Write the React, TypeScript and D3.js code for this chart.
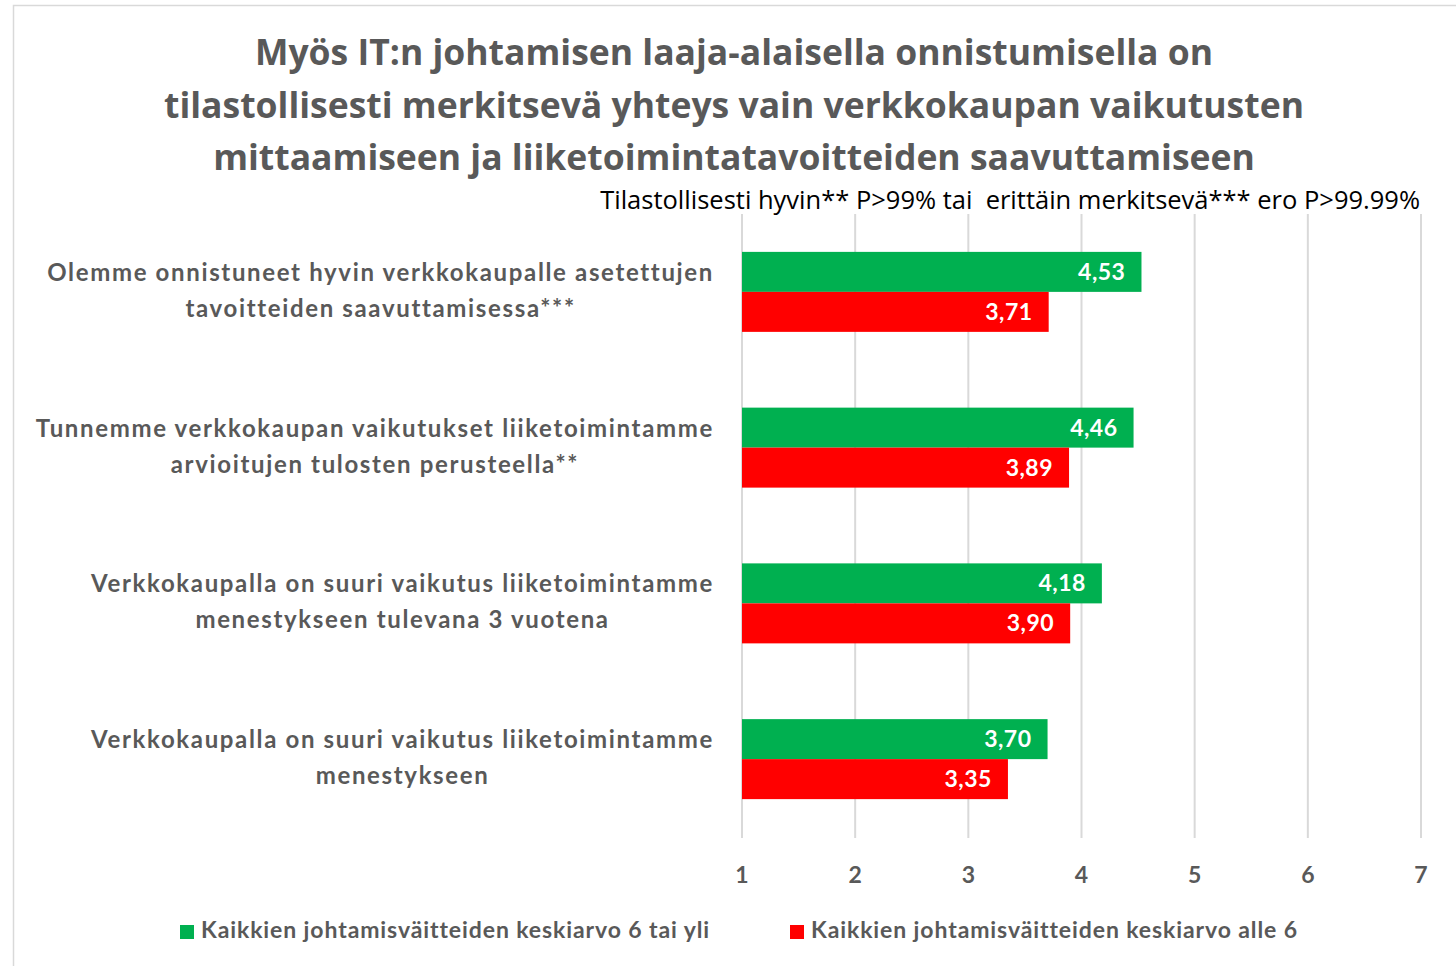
import React, { useEffect, useRef } from 'react';
import * as d3 from 'd3';

const categories = [
  ['Olemme onnistuneet hyvin verkkokaupalle asetettujen', 'tavoitteiden saavuttamisessa***'],
  ['Tunnemme verkkokaupan vaikutukset liiketoimintamme', 'arvioitujen tulosten perusteella**'],
  ['Verkkokaupalla on suuri vaikutus liiketoimintamme', 'menestykseen tulevana 3 vuotena'],
  ['Verkkokaupalla on suuri vaikutus liiketoimintamme', 'menestykseen'],
];
const highValues = [4.53, 4.46, 4.18, 3.7];
const lowValues = [3.71, 3.89, 3.9, 3.35];
const seriesNames = [
  'Kaikkien johtamisväitteiden keskiarvo 6 tai yli',
  'Kaikkien johtamisväitteiden keskiarvo alle 6',
];
const seriesColors = ['#00b050', '#ff0000'];
const xTicks = [1, 2, 3, 4, 5, 6, 7];
const titleLines = [
  'Myös IT:n johtamisen laaja-alaisella onnistumisella on',
  'tilastollisesti merkitsevä yhteys vain verkkokaupan vaikutusten',
  'mittaamiseen ja liiketoimintatavoitteiden saavuttamiseen',
];
const subtitle = 'Tilastollisesti hyvin** P>99% tai  erittäin merkitsevä*** ero P>99.99%';

const App: React.FC = () => {
  const svgRef = useRef<SVGSVGElement>(null);

  useEffect(() => {
    if (!svgRef.current) return;
    const width = 1456;
    const height = 966;
    const svg = d3.select(svgRef.current);
    svg.selectAll('*').remove();

    const font = 'Lato, "Open Sans", sans-serif';
    const titleFont = '"Open Sans", Lato, sans-serif';
    const grey = '#595959';

    svg.append('rect').attr('width', width).attr('height', height).attr('fill', '#fff');

    // chart border (top + left visible)
    svg.append('path')
      .attr('d', `M13.5,${height} V5.5 H${width}`)
      .attr('fill', 'none')
      .attr('stroke', '#d9d9d9')
      .attr('stroke-width', 1.5);

    // Title
    svg.append('g').selectAll('text')
      .data(titleLines)
      .join('text')
      .attr('x', 734)
      .attr('y', (_, i) => 65 + i * 52.5)
      .attr('text-anchor', 'middle')
      .attr('font-family', titleFont)
      .attr('font-weight', 'bold')
      .attr('font-size', 35.5)
      .attr('fill', grey)
      .text(d => d);

    svg.append('text')
      .attr('x', 1420)
      .attr('y', 209)
      .attr('text-anchor', 'end')
      .attr('font-family', titleFont)
      .attr('font-size', 25.5)
      .attr('fill', '#000')
      .attr('xml:space', 'preserve')
      .style('white-space', 'pre')
      .text(subtitle);

    const x = d3.scaleLinear().domain([1, 7]).range([742, 1421]);
    const y = d3.scaleBand<number>()
      .domain(d3.range(categories.length))
      .range([214, 837]);
    const inner = d3.scaleBand<number>()
      .domain([0, 1])
      .range([0, y.bandwidth()])
      .paddingOuter(0.947);

    // gridlines
    svg.append('g').selectAll('line')
      .data(xTicks)
      .join('line')
      .attr('x1', d => x(d)).attr('x2', d => x(d))
      .attr('y1', 214).attr('y2', 838)
      .attr('stroke', '#d9d9d9')
      .attr('stroke-width', 2);

    svg.append('g').selectAll('text')
      .data(xTicks)
      .join('text')
      .attr('x', d => x(d))
      .attr('y', 883)
      .attr('text-anchor', 'middle')
      .attr('font-family', font)
      .attr('font-weight', 'bold')
      .attr('font-size', 23)
      .attr('fill', grey)
      .text(d => d);

    const series = [highValues, lowValues];
    series.forEach((vals, s) => {
      const g = svg.append('g');
      g.selectAll('rect')
        .data(vals)
        .join('rect')
        .attr('x', x(1))
        .attr('y', (_, i) => (y(i) ?? 0) + (inner(s) ?? 0))
        .attr('width', d => x(d) - x(1))
        .attr('height', inner.bandwidth())
        .attr('fill', seriesColors[s]);
      g.selectAll('text')
        .data(vals)
        .join('text')
        .attr('x', d => x(d) - 16)
        .attr('y', (_, i) => (y(i) ?? 0) + (inner(s) ?? 0) + inner.bandwidth() / 2 + 8)
        .attr('text-anchor', 'end')
        .attr('font-family', font)
        .attr('font-weight', 'bold')
        .attr('font-size', 23)
        .attr('letter-spacing', 0.5)
        .attr('fill', '#fff')
        .text(d => d.toFixed(2).replace('.', ','));
    });

    // category labels: block right-aligned at 714, lines centred within block
    categories.forEach((lines, i) => {
      const cy = (y(i) ?? 0) + y.bandwidth() / 2;
      const g = svg.append('g');
      const texts = g.selectAll('text')
        .data(lines)
        .join('text')
        .attr('y', (_, j) => cy - 18 + j * 36 + 7)
        .attr('text-anchor', 'middle')
        .attr('font-family', font)
        .attr('font-weight', 'bold')
        .attr('font-size', 24)
        .attr('letter-spacing', 1.65)
        .attr('fill', grey)
        .text(d => d);
      let maxW = 0;
      texts.each(function () {
        maxW = Math.max(maxW, (this as SVGTextElement).getComputedTextLength());
      });
      texts.attr('x', 714 - maxW / 2);
    });

    // legend
    const legendX = [180, 790];
    seriesNames.forEach((name, s) => {
      svg.append('rect')
        .attr('x', legendX[s]).attr('y', 925)
        .attr('width', 14).attr('height', 14)
        .attr('fill', seriesColors[s]);
      svg.append('text')
        .attr('x', legendX[s] + 21)
        .attr('y', 938)
        .attr('font-family', font)
        .attr('font-weight', 'bold')
        .attr('font-size', 23)
        .attr('letter-spacing', 0.9)
        .attr('fill', grey)
        .text(name);
    });
  }, []);

  return (
    <div style={{ position: 'absolute', left: 0, top: 0 }}>
      <svg ref={svgRef} width={1456} height={966} style={{ display: 'block' }}></svg>
    </div>
  );
};

export default App;
